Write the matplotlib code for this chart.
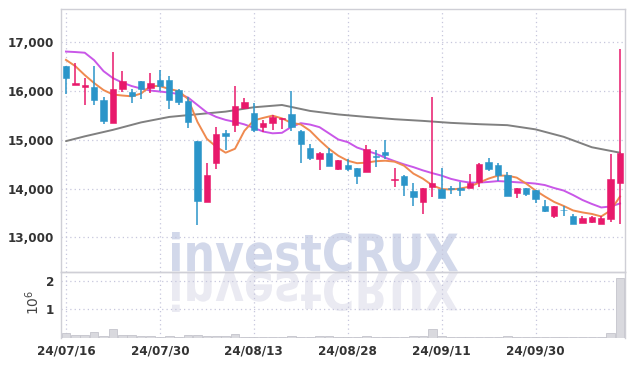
import matplotlib
matplotlib.use('Agg')
import matplotlib.pyplot as plt
import numpy as np
from matplotlib.textpath import TextPath
from matplotlib.patches import PathPatch
from matplotlib.font_manager import FontProperties, fontManager
from matplotlib.transforms import Affine2D

# ---------------- data ----------------
dates = ['24/07/16', '24/07/17', '24/07/18', '24/07/19', '24/07/22', '24/07/23', '24/07/24',
         '24/07/25', '24/07/26', '24/07/29', '24/07/30', '24/07/31',
         '24/08/01', '24/08/02', '24/08/05', '24/08/06', '24/08/07', '24/08/08', '24/08/09',
         '24/08/12', '24/08/13', '24/08/14', '24/08/16', '24/08/19', '24/08/20', '24/08/21',
         '24/08/22', '24/08/23', '24/08/26', '24/08/27', '24/08/28', '24/08/29', '24/08/30',
         '24/09/02', '24/09/03', '24/09/04', '24/09/05', '24/09/06', '24/09/09', '24/09/10',
         '24/09/11', '24/09/12', '24/09/13', '24/09/19', '24/09/20', '24/09/23', '24/09/24',
         '24/09/25', '24/09/26', '24/09/27', '24/09/30',
         '24/10/02', '24/10/04', '24/10/07', '24/10/08', '24/10/10', '24/10/11', '24/10/14',
         '24/10/15', '24/10/16']

opens = [16510, 16129, 16088, 16082, 15816, 15353, 16041, 15986, 16204, 16055,
         16224, 16224, 16020, 15789, 14973, 13728, 14524, 15143, 15312, 15653,
         15551, 15271, 15341, 15429, 15531, 15190, 14837, 14598, 14728, 14408,
         14490, 14429, 14341, 14670, 14749, 14180, 14251, 13959, 13714, 14035,
         13986, 14000, 14014, 14014, 14137, 14545, 14490, 14286, 13912, 14020,
         13980, 13647, 13435, 13565, 13442, 13299, 13320, 13272, 13374, 14122]
highs = [16510, 16571, 16259, 16504, 15871, 16810, 16414, 16041, 16204, 16367,
         16429, 16313, 16041, 15884, 14973, 14524, 15271, 15210, 16108, 15851,
         15755, 15408, 15510, 15449, 15994, 15210, 14918, 14749, 14830, 14592,
         14612, 14429, 14884, 14782, 15000, 14422, 14286, 14116, 14020, 15871,
         14422, 14055, 14136, 14292, 14530, 14633, 14524, 14340, 14020, 14020,
         13980, 13761, 13647, 13640, 13469, 13442, 13442, 13442, 14714, 16857]
lows = [15940, 16129, 15714, 15720, 15320, 15353, 15973, 15755, 15837, 15959,
        16006, 15633, 15720, 15245, 13250, 13728, 14408, 14782, 15169, 15633,
        15157, 15169, 15204, 15224, 15190, 14524, 14592, 14388, 14455, 14388,
        14353, 14088, 14341, 14443, 14612, 14035, 13851, 13647, 13469, 13831,
        13796, 13878, 13851, 14014, 14035, 14353, 14149, 13843, 13796, 13851,
        13694, 13510, 13401, 13435, 13272, 13299, 13299, 13272, 13320, 13265]
closes = [16265, 16170, 16122, 15816, 15394, 16041, 16204, 15892, 16041, 16157,
          16108, 15823, 15782, 15361, 13741, 14286, 15122, 15088, 15688, 15782,
          15204, 15341, 15476, 15449, 15259, 14918, 14633, 14728, 14455, 14592,
          14408, 14251, 14816, 14655, 14680, 14184, 14068, 13822, 14020, 14122,
          13796, 13990, 13966, 14122, 14510, 14408, 14272, 13843, 14020, 13884,
          13782, 13545, 13647, 13551, 13272, 13401, 13408, 13388, 14204, 14728]

ma_orange = [16639, 16510, 16327, 16163, 16020, 15929, 15908, 15892, 15949, 16102,
             16102, 16041, 16000, 15837, 15367, 15020, 14857, 14735, 14816, 15184,
             15398, 15449, 15496, 15439, 15347, 15316, 15184, 14990, 14816, 14673,
             14571, 14520, 14531, 14561, 14571, 14551, 14469, 14306, 14204, 14067,
             13990, 13979, 14000, 14041, 14122, 14204, 14265, 14265, 14224, 14102,
             13959, 13837, 13724, 13643, 13551, 13510, 13479, 13428, 13551, 13837]
ma_purple = [16810, 16800, 16786, 16633, 16408, 16265, 16173, 16102, 16051, 16010,
             15990, 15969, 15939, 15867, 15714, 15561, 15469, 15408, 15367, 15316,
             15245, 15169, 15133, 15143, 15265, 15341, 15312, 15259, 15133, 15006,
             14953, 14841, 14776, 14714, 14633, 14561, 14496, 14439, 14373, 14316,
             14265, 14198, 14153, 14122, 14122, 14135, 14153, 14143, 14129, 14118,
             14102, 14071, 14010, 13959, 13867, 13765, 13684, 13612, 13632, 13694]
ma_gray_idx = [0, 2, 5, 8, 11, 14, 17, 20, 23, 26, 29, 32, 35, 38, 41, 44, 47, 50, 53, 56, 59]
ma_gray = [14973, 15071, 15204, 15357, 15469, 15524, 15578, 15667, 15714, 15592,
           15520, 15469, 15422, 15388, 15347, 15320, 15300, 15214, 15061, 14847, 14735]

volumes = [0.17, 0.08, 0.08, 0.21, 0.05, 0.32, 0.08, 0.08, 0.04, 0.04,
           0.02, 0.04, 0.03, 0.08, 0.10, 0.06, 0.04, 0.04, 0.14, 0.03,
           0.02, 0.03, 0.02, 0.02, 0.05, 0.03, 0.03, 0.04, 0.04, 0.03,
           0.02, 0.03, 0.06, 0.03, 0.03, 0.03, 0.03, 0.05, 0.06, 0.32,
           0.06, 0.03, 0.03, 0.03, 0.03, 0.03, 0.03, 0.04, 0.02, 0.02,
           0.03, 0.02, 0.03, 0.02, 0.02, 0.02, 0.02, 0.02, 0.17, 2.10]  # millions

price_ticks = [13000, 14000, 15000, 16000, 17000]
vol_ticks = [1, 2]
label_every = 10

# ---------------- style ----------------
UP = '#e8196b'
DOWN = '#2b95c9'
C_ORANGE = '#ef8a4f'
C_PURPLE = '#c957e8'
C_GRAY = '#808080'
GRID = '#c6c6dc'
SPINE = '#cfcfd6'
TXT = '#333333'

names = {f.name for f in fontManager.ttflist}
if 'Liberation Sans Narrow' in names:
    tick_font = dict(family='Liberation Sans Narrow', weight='bold', size=11)
else:
    tick_font = dict(family='DejaVu Sans', stretch='condensed', weight='bold', size=9.5)

W, H = 634, 366
fig = plt.figure(figsize=(W / 100, H / 100), dpi=100)
fig.patch.set_facecolor('white')

axL, axR = 61 / W, 625 / W
ax = fig.add_axes([axL, 1 - 272 / H, axR - axL, (272 - 9) / H])
axv = fig.add_axes([axL, 1 - 337.6 / H, axR - axL, (337.6 - 272) / H], sharex=ax)
for a in (ax, axv):
    a.set_facecolor('none')
    for s in a.spines.values():
        s.set_color(SPINE)
        s.set_linewidth(1.0)
    a.set_axisbelow(True)
axv.spines['bottom'].set_visible(False)

# watermark
fp = FontProperties(family='DejaVu Sans', weight='bold')
tp = TextPath((0, 0), 'investCRUX', size=100, prop=fp)
ext = tp.get_extents()
sx = (458 - 172) / ext.width
sy = 40 / ext.height
base = H - 272
tr = Affine2D().translate(-ext.x0, -ext.y0).scale(sx, sy).translate(172, base)
fig.add_artist(PathPatch(tp, transform=tr, facecolor='#d2d8ea', edgecolor='none', zorder=-5))
tr2 = Affine2D().translate(-ext.x0, -ext.y0).scale(sx, -sy).translate(172, base)
fig.add_artist(PathPatch(tp, transform=tr2, facecolor='#eaeaf2', edgecolor='none', zorder=-5))

x = np.arange(len(dates))
o = np.array(opens); c = np.array(closes); h = np.array(highs); l = np.array(lows)
up = c >= o
colors = np.where(up, UP, DOWN)

# moving averages
ax.plot(ma_gray_idx, ma_gray, color=C_GRAY, lw=1.4, zorder=2, solid_capstyle='round')
ax.plot(x, ma_purple, color=C_PURPLE, lw=1.4, zorder=2)
ax.plot(x, ma_orange, color=C_ORANGE, lw=1.4, zorder=2)

# candles
ax.vlines(x, l, h, colors=colors, lw=1.1, zorder=3)
body_bottom = np.minimum(o, c)
body_h = np.maximum(np.abs(c - o), 18)
ax.bar(x, body_h, bottom=body_bottom, width=0.68, color=colors, edgecolor=colors,
       linewidth=0.4, zorder=4)

ax.set_xlim(-0.53, len(dates) - 0.47)
ax.set_ylim(12288, 17683)
ax.set_yticks(price_ticks)
ax.set_yticklabels([f'{v:,}' for v in price_ticks], **tick_font, color=TXT)
ax.grid(True, color=GRID, linestyle=(0, (1, 2.5)), linewidth=0.9)
ax.tick_params(axis='both', length=0, pad=5)
ax.tick_params(axis='x', labelbottom=False)

# volume
axv.bar(x, volumes, width=0.92, color='#d9d9de', edgecolor='#c4c4cc', linewidth=0.6, zorder=2)
axv.set_ylim(0, 2.32)
axv.set_yticks(vol_ticks)
axv.set_yticklabels([str(v) for v in vol_ticks], **tick_font, color=TXT)
tick_pos = list(range(0, len(dates), label_every))
axv.set_xticks(tick_pos)
axv.set_xticklabels([dates[i] for i in tick_pos], **tick_font, color=TXT)
axv.grid(True, color=GRID, linestyle=(0, (1, 2.5)), linewidth=0.9)
axv.tick_params(axis='both', length=0, pad=5)

fig.text(33 / W, 1 - 302 / H, r'$10^{6}$', rotation=90, ha='center', va='center',
         fontsize=10, color='#444444')

fig.savefig('out.png', dpi=100, facecolor='white')
